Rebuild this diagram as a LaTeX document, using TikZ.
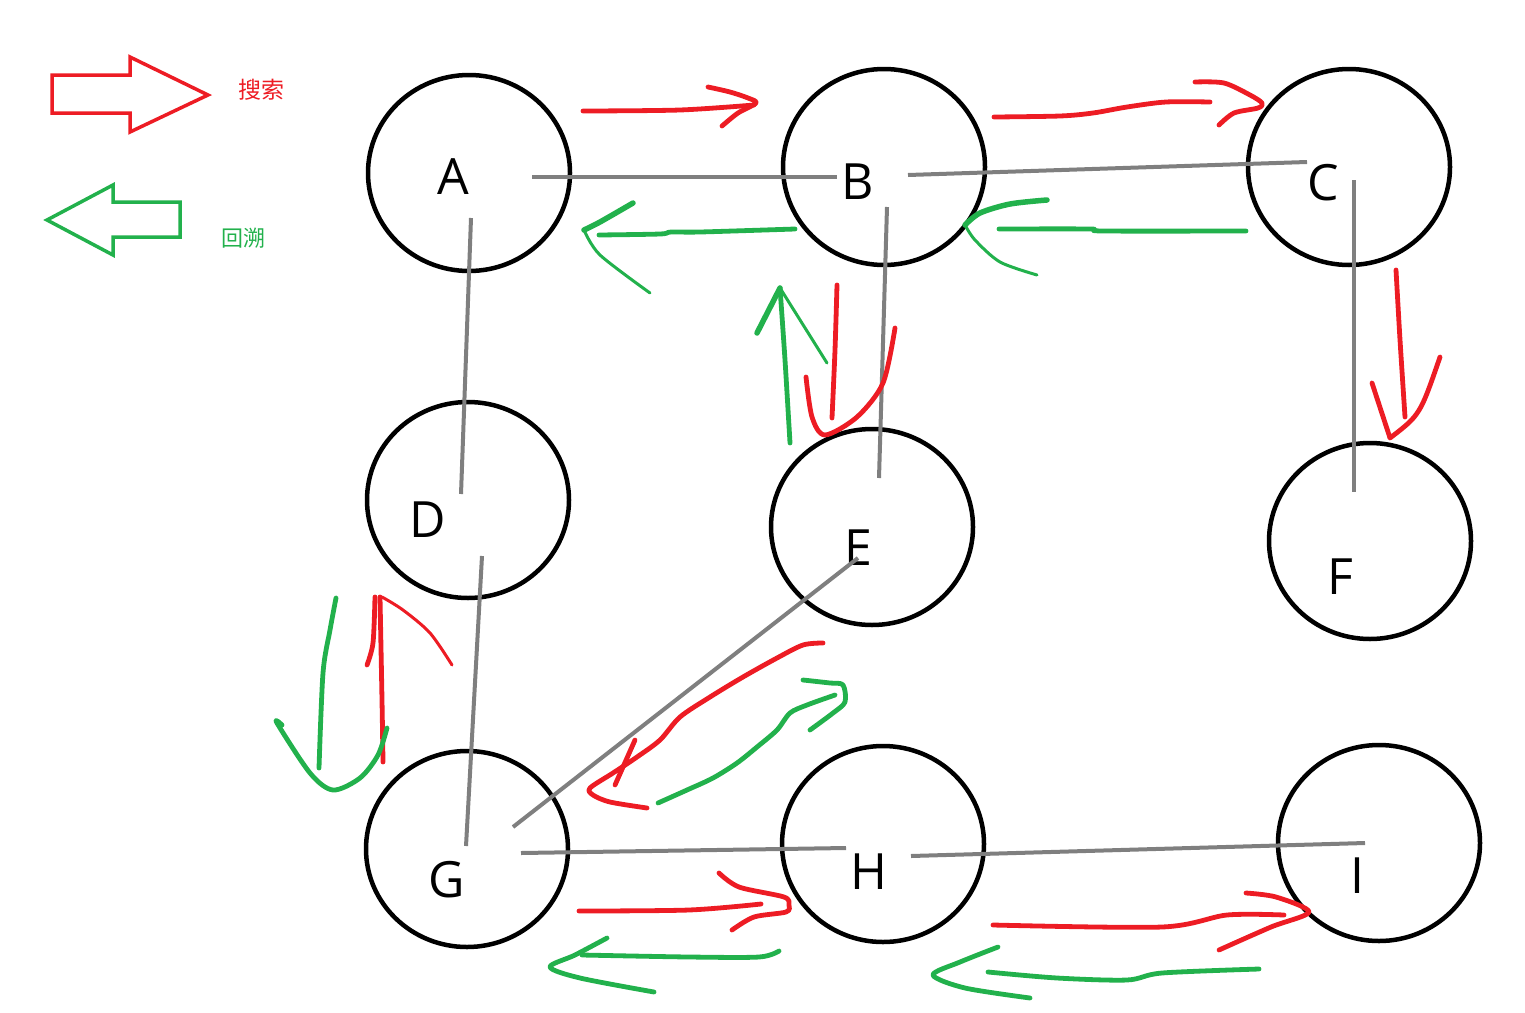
\documentclass[tikz,border=0pt]{standalone}
\usepackage{fontspec}
\setmainfont{Open Sans}
\newfontfamily\cjk{Noto Sans CJK SC}
\usepackage{xcolor}
\usepackage{tikz}
\usetikzlibrary{shapes.geometric, positioning}
\definecolor{myred}{RGB}{237, 28, 36}
\definecolor{mygreen}{RGB}{34, 177, 76}
\definecolor{mygray}{RGB}{127, 127, 127}
\tikzstyle{vertex} = [ellipse, draw=black, line width=4.5pt, minimum width=202, minimum height=196, inner sep=0pt]
\tikzstyle{vname} = [font=\fontsize{50}{60}\selectfont, inner sep=0pt]
\tikzstyle{edge} = [mygray, line width=4pt]
\tikzstyle{search} = [myred, line width=4.8pt, line cap=round, line join=round]
\tikzstyle{back} = [mygreen, line width=4.8pt, line cap=round, line join=round]

\begin{document}
\begin{tikzpicture}[x=1pt, y=-1pt]
\useasboundingbox (0,0) rectangle (1525,1012);

% legend
\draw[myred, line width=3.5pt] (52,75) -- (130,75) -- (130,57) -- (208,95) -- (130,132) -- (130,113) -- (52,113) -- cycle;
\node[text=myred, font=\cjk\fontsize{23}{28}\selectfont] (srch) at (261,90) {搜索};
\draw[mygreen, line width=3.5pt] (180,202) -- (113,202) -- (113,185) -- (47,220) -- (113,255) -- (113,237) -- (180,237) -- cycle;
\node[text=mygreen, font=\cjk\fontsize{22}{27}\selectfont] (bktr) at (243,238) {回溯};

% vertices
\node[vertex] (A) at (469,173) {};
\node[vertex] (B) at (884,167) {};
\node[vertex] (C) at (1349,167) {};
\node[vertex] (D) at (468,500) {};
\node[vertex] (E) at (872,527) {};
\node[vertex] (F) at (1370,541) {};
\node[vertex] (G) at (467,849) {};
\node[vertex] (H) at (883,844) {};
\node[vertex] (I) at (1379,843) {};

\node[vname] (a) at (453,177) {A};
\node[vname] (b) at (858,182) {B};
\node[vname] (c) at (1323,183) {C};
\node[vname] (d) at (428,520) {D};
\node[vname] (e) at (858,548) {E};
\node[vname] (f) at (1340,577) {F};
\node[vname] (g) at (447,880) {G};
\node[vname] (h) at (869,872) {H};
\node[vname] (i) at (1357,876) {I};

% edges
\coordinate (ab1) at (532,177); \coordinate (ab2) at (837,177);
\coordinate (bc1) at (908,175); \coordinate (bc2) at (1307,162);
\coordinate (ad1) at (471,218); \coordinate (ad2) at (461,494);
\coordinate (be1) at (887,207); \coordinate (be2) at (879,478);
\coordinate (cf1) at (1354,180); \coordinate (cf2) at (1354,492);
\coordinate (dg1) at (482,556); \coordinate (dg2) at (466,846);
\coordinate (eg1) at (858,558); \coordinate (eg2) at (513,827);
\coordinate (gh1) at (521,853); \coordinate (gh2) at (846,848);
\coordinate (hi1) at (911,856); \coordinate (hi2) at (1365,843);
\draw[edge] (ab1) -- (ab2);
\draw[edge] (bc1) -- (bc2);
\draw[edge] (ad1) -- (ad2);
\draw[edge] (be1) -- (be2);
\draw[edge] (cf1) -- (cf2);
\draw[edge] (dg1) -- (dg2);
\draw[edge] (eg1) -- (eg2);
\draw[edge] (gh1) -- (gh2);
\draw[edge] (hi1) -- (hi2);

% search strokes
\draw[search] plot[smooth] coordinates {(583,111) (680,110) (754,105)};
\draw[search] plot[smooth] coordinates {(708,87) (730,92) (748,98) (756,103) (738,113) (722,126)};
\draw[search] plot[smooth] coordinates {(994,117) (1060,116) (1093,113) (1127,107) (1166,102) (1210,102)};
\draw[search] plot[smooth] coordinates {(1195,82) (1224,83) (1250,95) (1262,103) (1258,108) (1234,113) (1219,125)};
\draw[search] plot[smooth] coordinates {(1396,270) (1400,340) (1405,417)};
\draw[search] (1372,383) -- (1390,438) .. controls (1420,415) .. (1440,357);
\draw[search] plot[smooth] coordinates {(837,285) (835,350) (832,418)};
\draw[search] plot[smooth] coordinates {(806,377) (812,417) (825,435) (857,417) (883,383) (895,328)};
\draw[search] plot[smooth] coordinates {(383,762) (382,700) (380,597)};
\draw[search] plot[smooth] coordinates {(375,597) (373,643) (367,665)};
\draw[search, line width=3pt] plot[smooth] coordinates {(382,597) (403,610) (430,633) (452,665)};
\draw[search] plot[smooth] coordinates {(823,643) (803,645) (777,658) (743,677) (710,697) (680,717) (660,740) (637,757) (613,773) (590,788) (593,795) (610,802) (647,808)};
\draw[search] (635,740) -- (615,785);
\draw[search] plot[smooth] coordinates {(579,911) (689,910) (761,904)};
\draw[search] plot[smooth] coordinates {(719,873) (739,887) (784,897) (789,905) (786,912) (754,917) (732,930)};
\draw[search] plot[smooth] coordinates {(993,925) (1162,927) (1227,915) (1284,915)};
\draw[search] plot[smooth] coordinates {(1246,893) (1276,897) (1309,912) (1271,927) (1219,950)};

% backtrack strokes
\draw[back] plot[smooth] coordinates {(795,229) (700,232) (671,232) (660,234) (599,235)};
\draw[back, line width=5.5pt] plot[smooth] coordinates {(633,203) (600,222) (584,230)};
\draw[back, line width=3pt] plot[smooth] coordinates {(584,230) (600,255) (650,293)};
\draw[back] plot[smooth] coordinates {(1246,231) (1103,231) (1090,229) (999,229)};
\draw[back, line width=5.5pt] plot[smooth] coordinates {(1047,200) (1010,204) (980,213) (965,225)};
\draw[back, line width=3pt] plot[smooth] coordinates {(965,225) (975,240) (1000,262) (1037,275)};
\draw[back] plot[smooth] coordinates {(790,443) (785,360) (780,288)};
\draw[back, line width=5.5pt] (757,333) -- (780,288);
\draw[back, line width=3pt] (780,288) -- (827,363);
\draw[back] plot[smooth] coordinates {(336,598) (330,630) (323,673) (319,768)};
\draw[back] plot[smooth] coordinates {(387,728) (378,755) (360,778) (333,790) (310,773) (277,723) (282,725)};
\draw[back] plot[smooth] coordinates {(658,803) (687,790) (713,778) (737,763) (757,747) (777,730) (790,713) (807,705) (835,695)};
\draw[back] plot[smooth] coordinates {(803,680) (830,683) (843,685) (845,702) (833,713) (810,730)};
\draw[back] plot[smooth] coordinates {(779,951) (759,957) (689,957) (582,955)};
\draw[back] plot[smooth] coordinates {(607,938) (575,955) (550,967) (580,978) (654,992)};
\draw[back] plot[smooth] coordinates {(1259,969) (1162,973) (1127,980) (1057,978) (988,972)};
\draw[back] plot[smooth] coordinates {(998,947) (960,962) (933,975) (965,988) (1030,998)};
\end{tikzpicture}
\end{document}
